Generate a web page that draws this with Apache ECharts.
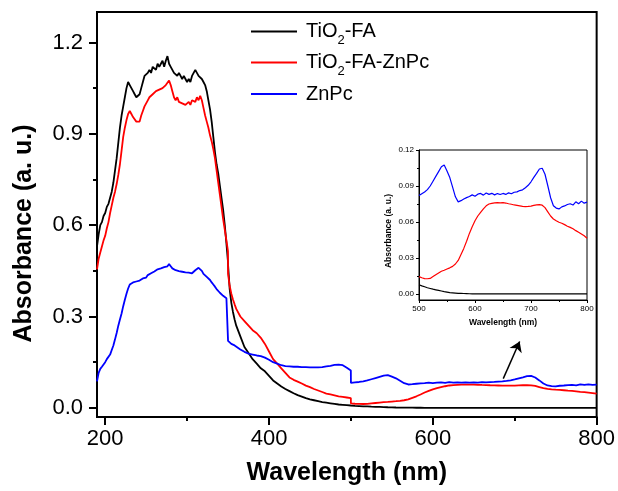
<!DOCTYPE html>
<html>
<head>
<meta charset="utf-8">
<script src="https://cdn.jsdelivr.net/npm/echarts@6/dist/echarts.min.js"></script>
<style>html,body{margin:0;padding:0;background:#fff;}#c{width:618px;height:491px;}</style>
</head>
<body>
<div id="c"></div>
<script>
// ---- data ----
const wlUV = [190,192,194,196,198,200,202,204,206,208,210,212,214,216,218,220,222,224,226,228,230,232,234,236,238,240,242,244,246,248,250,252,254,256,258,260,262,264,266,268,270,272,274,276,278,280,282,284,286,288,290,292,294,296,298,300,302,304,306,308,310,312,314,316,318,320,322,324,326,328,330,332,334,336,338,340,342,344,346,348,349.9,350];
const wlMid = [352,354,356,358,360,365,370,375,380,385,390,395,400,405,410,415,420,425,430,435,440,445,450,455,460,465,470,475,480,485,490,495,499.9];
const wlVis = [500,505,510,515,520,525,530,535,540,545,550,555,560,565,570,575,580,585,590,595,600,605,610,615,620,625,630,635,640,645,650,655,660,665,670,675,680,685,690,695,700,705,710,715,720,725,730,735,740,745,750,755,760,765,770,775,780,785,790,795,800];

const tioFA_UV = [0.53,0.57,0.60,0.61,0.63,0.64,0.66,0.67,0.69,0.71,
  0.74,0.78,0.82,0.87,0.92,0.96,0.99,1.02,1.05,1.07,
  1.06,1.05,1.04,1.03,1.02,1.015,1.03,1.05,1.07,1.09,
  1.09,1.10,1.11,1.10,1.12,1.12,1.11,1.13,1.12,1.13,
  1.14,1.12,1.14,1.155,1.13,1.12,1.11,1.10,1.10,1.09,
  1.10,1.09,1.08,1.09,1.08,1.07,1.08,1.07,1.09,1.10,
  1.11,1.10,1.09,1.09,1.08,1.07,1.06,1.04,1.01,0.98,
  0.94,0.89,0.84,0.80,0.77,0.73,0.69,0.65,0.60,0.54,
  0.48,0.47];
const tioFA_Mid = [0.39,0.345,0.315,0.29,0.27,0.235,0.20,0.18,0.16,0.145,0.13,0.12,0.105,0.09,0.08,0.07,0.062,0.055,0.048,0.042,0.037,0.032,0.028,0.025,0.022,0.019,0.017,0.015,0.013,0.011,0.010,0.009,0.0078];
const tioFA_Vis = [0.0077,0.0068,0.006,0.0052,0.0046,0.004,0.0035,0.003,0.0025,0.002,0.0016,0.0012,0.001,0.0008,0.0006,0.0005,0.0004,0.0003,0.0002,
  0.0001,0.0001,0.0001,0.0001,0.0001,0.0001,0.0001,0.0001,0.0001,0.0001,0.0001,0.0001,0.0001,0.0001,0.0001,0.0001,0.0001,0.0001,0.0001,0.0001,0.0001,
  0.0001,0.0001,0.0001,0.0001,0.0001,0.0001,0.0001,0.0001,0.0001,0.0001,0.0001,0.0001,0.0001,0.0001,0.0001,0.0001,0.0001,0.0001,0.0001,0.0001,0.0001];

const tioFAZnPc_UV = [0.455,0.49,0.51,0.53,0.55,0.565,0.59,0.61,0.64,0.665,
  0.69,0.71,0.735,0.765,0.80,0.845,0.89,0.92,0.945,0.965,
  0.975,0.965,0.955,0.95,0.94,0.945,0.94,0.96,0.975,0.99,
  1.00,1.01,1.02,1.015,1.03,1.025,1.04,1.035,1.045,1.04,
  1.05,1.045,1.06,1.055,1.075,1.06,1.04,1.02,1.01,1.02,
  1.005,1.01,1.00,1.005,0.995,1.00,1.005,0.995,1.01,1.015,
  1.005,1.02,1.01,1.025,1.01,0.985,0.96,0.94,0.92,0.895,
  0.875,0.85,0.82,0.78,0.74,0.70,0.66,0.62,0.585,0.55,
  0.515,0.44];
const tioFAZnPc_Mid = [0.40,0.375,0.356,0.34,0.325,0.30,0.285,0.27,0.255,0.245,0.23,0.21,0.185,0.16,0.145,0.13,0.115,0.10,0.092,0.086,0.08,0.073,0.068,0.062,0.057,0.052,0.047,0.044,0.041,0.038,0.036,0.034,0.032];
const tioFAZnPc_Vis = [0.0145,0.0135,0.0128,0.0127,0.013,0.0145,0.016,0.0175,0.019,0.0198,0.0208,0.0218,0.023,0.025,0.028,0.033,0.038,0.044,0.0505,0.056,
  0.061,0.065,0.068,0.071,0.0735,0.075,0.0755,0.076,0.0762,0.076,0.0762,0.0758,0.0752,0.0748,0.0742,0.0738,0.0734,0.073,0.0728,0.073,
  0.0733,0.0738,0.0742,0.0745,0.074,0.072,0.0685,0.065,0.0625,0.061,0.0598,0.059,0.0578,0.0565,0.0555,0.0543,0.0528,0.0515,0.05,0.0485,0.0465];

const znpc_UV = [0.087,0.115,0.128,0.135,0.14,0.15,0.16,0.165,0.175,0.19,
  0.205,0.225,0.246,0.27,0.29,0.31,0.334,0.355,0.375,0.392,
  0.405,0.408,0.412,0.41,0.415,0.412,0.418,0.422,0.425,0.43,
  0.428,0.436,0.438,0.442,0.444,0.448,0.45,0.455,0.452,0.458,
  0.46,0.462,0.458,0.465,0.472,0.465,0.458,0.455,0.452,0.454,
  0.449,0.452,0.447,0.45,0.445,0.448,0.444,0.447,0.442,0.445,
  0.452,0.448,0.46,0.465,0.45,0.44,0.436,0.43,0.425,0.42,
  0.412,0.405,0.398,0.39,0.385,0.378,0.372,0.368,0.364,0.36,
  0.356,0.22];
const znpc_Mid = [0.215,0.21,0.208,0.205,0.20,0.192,0.184,0.178,0.175,0.172,0.17,0.165,0.158,0.15,0.145,0.14,0.137,0.136,0.135,0.135,0.134,0.134,0.133,0.133,0.133,0.134,0.136,0.138,0.141,0.142,0.14,0.132,0.123];
const znpc_Vis = [0.082,0.0835,0.085,0.087,0.09,0.094,0.098,0.102,0.106,0.1075,0.1025,0.097,0.089,0.081,0.0768,0.0778,0.0792,0.0803,0.0812,0.0826,
  0.0815,0.0832,0.0838,0.0824,0.0842,0.083,0.0839,0.0826,0.0837,0.0829,0.0838,0.083,0.0843,0.0835,0.0848,0.0851,0.0862,0.0868,0.0886,0.0906,
  0.0935,0.0972,0.1005,0.1042,0.1048,0.0998,0.0902,0.0802,0.0736,0.0716,0.0709,0.0726,0.0734,0.0746,0.0752,0.0741,0.0768,0.0752,0.0774,0.0757,0.0766];

const seriesNames = ['TiO2-FA', 'TiO2-FA-ZnPc', 'ZnPc'];
const xMajor = [200, 400, 600, 800];
const xMinor = [300, 500, 700];
const yMajor = [0, 0.3, 0.6, 0.9, 1.2];
const yMinor = [0.15, 0.45, 0.75, 1.05];
const insetYMajor = [0, 0.03, 0.06, 0.09, 0.12];
const insetYMinor = [0.015, 0.045, 0.075, 0.105];
const arrowFrom = [686, 0.096];
const arrowTo = [706, 0.218];

// ---- build ----
const wl = wlUV.concat(wlMid, wlVis);
const ys = [
  tioFA_UV.concat(tioFA_Mid, tioFA_Vis),
  tioFAZnPc_UV.concat(tioFAZnPc_Mid, tioFAZnPc_Vis),
  znpc_UV.concat(znpc_Mid, znpc_Vis)
];
const colors = ['#000000', '#ff0000', '#0000ff'];
const pairs = (arr) => wl.map((x, i) => [x, arr[i]]).filter(p => p[1] !== undefined);
const FONT = 'Liberation Sans';

const mainSeries = ys.map((arr, k) => ({
  name: seriesNames[k], type: 'line', xAxisIndex: 0, yAxisIndex: 0,
  data: pairs(arr), symbol: 'none', showSymbol: false, animation: false,
  lineStyle: { color: colors[k], width: 1.8 }, itemStyle: { color: colors[k] },
  emphasis: { disabled: true }, z: 3 + k
}));
mainSeries[2].markLine = {
  silent: true, animation: false, symbol: ['none', 'arrow'], symbolSize: 10,
  lineStyle: { color: '#000', width: 1.5, type: 'solid' }, label: { show: false },
  emphasis: { disabled: true },
  data: [[{ coord: arrowFrom }, { coord: arrowTo }]]
};
const insetSeries = ys.map((arr, k) => ({
  name: seriesNames[k], type: 'line', xAxisIndex: 2, yAxisIndex: 2,
  data: pairs(arr).filter(p => p[0] >= 500), symbol: 'none', showSymbol: false, animation: false,
  lineStyle: { color: colors[k], width: 1.2 }, itemStyle: { color: colors[k] },
  emphasis: { disabled: true }, z: 3 + k
}));

const black = '#000';
const legendTops = [11, 42, 79];
const legendRich = {
  a: { fontSize: 20, fontFamily: FONT, color: black, lineHeight: 31 },
  b: { fontSize: 13, fontFamily: FONT, color: black, lineHeight: 13, padding: [18, 0, 0, 0], verticalAlign: 'top' }
};
const legends = seriesNames.map((n, i) => ({
  data: [n], orient: 'vertical', left: 246, top: legendTops[i], itemWidth: 46, itemHeight: 14,
  selectedMode: false, icon: 'path://M0,0 L46,0 L46,2 L0,2 Z',
  formatter: (s) => s.startsWith('TiO2') ? '{a|TiO}{b|2}{a|' + s.slice(4) + '}' : '{a|' + s + '}',
  textStyle: { padding: [0, 0, 0, 4], rich: legendRich }
}));

const option = {
  animation: false,
  backgroundColor: '#fff',
  grid: [
    { left: 97, top: 12, width: 503, height: 406, show: true, borderColor: black, borderWidth: 2, containLabel: false },
    { left: 419, top: 150, width: 168, height: 150, show: true, borderColor: black, borderWidth: 1, containLabel: false }
  ],
  legend: legends,
  xAxis: [
    {
      gridIndex: 0, type: 'value', min: 190, max: 800, position: 'bottom',
      axisLine: { show: true, onZero: false, lineStyle: { color: black, width: 2 } },
      axisTick: { show: true, inside: false, length: 8, lineStyle: { color: black, width: 2 }, customValues: xMajor },
      axisLabel: { show: true, customValues: xMajor, fontSize: 22, fontFamily: FONT, color: black, margin: 11 },
      splitLine: { show: false },
      name: 'Wavelength (nm)', nameLocation: 'middle', nameGap: 44,
      nameTextStyle: { fontSize: 25, fontWeight: 'bold', fontFamily: FONT, color: black }
    },
    {
      gridIndex: 0, type: 'value', min: 190, max: 800, position: 'bottom',
      axisLine: { show: false, onZero: false },
      axisTick: { show: true, inside: false, length: 4, lineStyle: { color: black, width: 2 }, customValues: xMinor },
      axisLabel: { show: false, customValues: xMinor }, splitLine: { show: false }
    },
    {
      gridIndex: 1, type: 'value', min: 500, max: 800, interval: 100, position: 'bottom',
      axisLine: { show: true, onZero: false, lineStyle: { color: black, width: 1 } },
      axisTick: { show: true, inside: false, length: 3, lineStyle: { color: black, width: 1 } },
      minorTick: { show: true, splitNumber: 2, length: 2, lineStyle: { color: black, width: 1 } },
      axisLabel: { show: true, fontSize: 8, fontFamily: FONT, color: black, margin: 5 },
      splitLine: { show: false }, minorSplitLine: { show: false },
      name: 'Wavelength (nm)', nameLocation: 'middle', nameGap: 18,
      nameTextStyle: { fontSize: 8.5, fontWeight: 'bold', fontFamily: FONT, color: black }
    }
  ],
  yAxis: [
    {
      gridIndex: 0, type: 'value', min: -0.03, max: 1.30, position: 'left',
      axisLine: { show: true, onZero: false, lineStyle: { color: black, width: 2 } },
      axisTick: { show: true, inside: false, length: 8, lineStyle: { color: black, width: 2 }, customValues: yMajor },
      axisLabel: { show: true, customValues: yMajor, fontSize: 22, fontFamily: FONT, color: black, margin: 14,
        formatter: (v) => v.toFixed(1) },
      splitLine: { show: false },
      name: 'Absorbance (a. u.)', nameLocation: 'middle', nameGap: 60,
      nameTextStyle: { fontSize: 25, fontWeight: 'bold', fontFamily: FONT, color: black, padding: [0, 38, 0, 0] }
    },
    {
      gridIndex: 0, type: 'value', min: -0.03, max: 1.30, position: 'left',
      axisLine: { show: false, onZero: false },
      axisTick: { show: true, inside: false, length: 4, lineStyle: { color: black, width: 2 }, customValues: yMinor },
      axisLabel: { show: false, customValues: yMinor }, splitLine: { show: false }
    },
    {
      gridIndex: 1, type: 'value', min: -0.005, max: 0.12, position: 'left',
      axisLine: { show: true, onZero: false, lineStyle: { color: black, width: 1 } },
      axisTick: { show: true, inside: false, length: 3, lineStyle: { color: black, width: 1 }, customValues: insetYMajor },
      axisLabel: { show: true, customValues: insetYMajor, fontSize: 8, fontFamily: FONT, color: black, margin: 5,
        formatter: (v) => v.toFixed(2) },
      splitLine: { show: false },
      name: 'Absorbance (a. u.)', nameLocation: 'middle', nameGap: 26,
      nameTextStyle: { fontSize: 8.5, fontWeight: 'bold', fontFamily: FONT, color: black, padding: [0, 12, 0, 0] }
    },
    {
      gridIndex: 1, type: 'value', min: -0.005, max: 0.12, position: 'left',
      axisLine: { show: false, onZero: false },
      axisTick: { show: true, inside: false, length: 2, lineStyle: { color: black, width: 1 }, customValues: insetYMinor },
      axisLabel: { show: false, customValues: insetYMinor }, splitLine: { show: false }
    }
  ],
  series: mainSeries.concat(insetSeries)
};

const chart = echarts.init(document.getElementById('c'), null, { renderer: 'canvas', width: 618, height: 491 });
chart.setOption(option);
</script>
</body>
</html>
